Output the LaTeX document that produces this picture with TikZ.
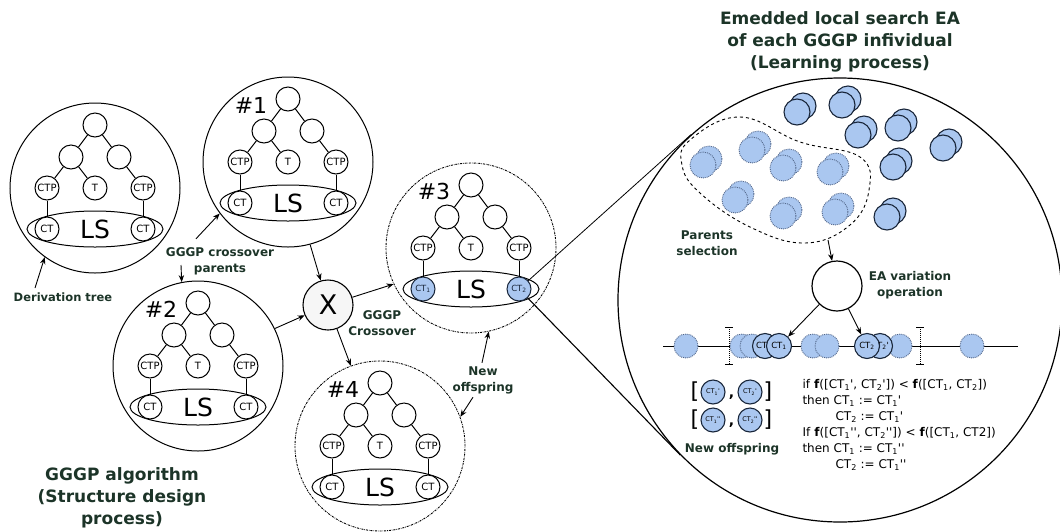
\documentclass[tikz,border=0pt]{standalone}
\usepackage{fontspec}
\setmainfont{DejaVu Sans}[Ligatures=TeXOff]
\usetikzlibrary{arrows.meta,shapes.geometric,calc}

\definecolor{labgreen}{RGB}{28,52,40}
\definecolor{bubble}{RGB}{170,199,240}
\definecolor{bubedge}{RGB}{25,38,58}
\definecolor{dotedge}{RGB}{80,100,135}

\tikzset{
  indiv/.style = {draw, circle, line width = 1pt, minimum size = 170pt, inner sep = 0pt},
  offspr/.style = {dash pattern = on 2pt off 1pt on 0.6pt off 1pt, line width = 0.9pt},
  tn/.style = {draw, circle, fill = white, line width = 1pt, minimum size = 24pt, inner sep = 0pt, font = \fontsize{10}{10}\selectfont},
  tline/.style = {line width = 1pt},
  lsbox/.style = {draw, ellipse, line width = 1pt, minimum width = 136pt, minimum height = 36pt, inner sep = 0pt, font = \fontsize{25}{25}\selectfont},
  tag/.style = {font = \fontsize{22}{22}\selectfont},
  lab/.style = {text = labgreen, font = \fontsize{12}{16}\selectfont\bfseries, align = center},
  biglab/.style = {text = labgreen, font = \fontsize{17}{22}\selectfont\bfseries, align = center},
  arr/.style = {-{Stealth[length = 7pt, width = 5.5pt]}, line width = 0.9pt},
  ctsel/.style = {fill = bubble, draw = bubedge, text = bubedge, font = \fontsize{8.5}{8.5}\selectfont},
  solidbub/.style = {fill = bubble, draw = bubedge, line width = 1.1pt},
  dotbub/.style = {fill = bubble, draw = dotedge, densely dotted, line width = 0.9pt},
  linect/.style = {draw = bubedge, fill = bubble, circle, line width = 1.1pt, minimum size = 25pt, inner sep = 0pt, font = \fontsize{8.5}{8.5}\selectfont},
  offct/.style = {draw = bubedge, fill = bubble, circle, line width = 1.1pt, minimum size = 24pt, inner sep = 0pt, font = \fontsize{6.5}{6.5}\selectfont},
}

% one individual: name, centre x, centre y, outline style, tag, leaf style, leaf texts
\newcommand\ggtree[8]{%
  \begin{scope}[shift = {(#2,#3)}]
    \node[indiv, #4] (#1) at (0,0) {};
    \node[tag] (#1-tag) at (-37,-57) {#5};
    \node[tn] (#1-r) at (0,-63) {};
    \node[tn] (#1-a) at (-24,-31) {};
    \node[tn] (#1-b) at (24,-31) {};
    \node[tn] (#1-p1) at (-48,0) {CTP};
    \node[tn] (#1-t) at (0,0) {T};
    \node[tn] (#1-p2) at (48,0) {CTP};
    \node[lsbox] (#1-ls) at (0,41) {LS};
    \node[tn, #6] (#1-c1) at (-48,41) {#7};
    \node[tn, #6] (#1-c2) at (48,41) {#8};
    \draw[tline] (#1-r) -- (#1-a);
    \draw[tline] (#1-r) -- (#1-b);
    \draw[tline] (#1-a) -- (#1-p1);
    \draw[tline] (#1-a) -- (#1-t);
    \draw[tline] (#1-b) -- (#1-p2);
    \draw[tline] (#1-p1) -- (#1-c1);
    \draw[tline] (#1-p2) -- (#1-c2);
  \end{scope}}

\begin{document}
\begin{tikzpicture}[x = 1pt, y = -1pt]
\useasboundingbox (0,0) rectangle (1060,531);

% GGGP side
\ggtree{dt}{95}{188}{}{}{}{CT}{CT}
\ggtree{t1}{288}{162}{}{\#1}{}{CT}{CT}
\ggtree{t2}{198}{366}{}{\#2}{}{CT}{CT}
\ggtree{t3}{471}{248}{offspr}{\#3}{ctsel}{CT\textsubscript{1}}{CT\textsubscript{2}}
\ggtree{t4}{380}{446}{offspr}{\#4}{}{CT}{CT}

\node[draw, circle, line width = 1.1pt, fill = gray!7, minimum size = 50pt, inner sep = 0pt, font = \fontsize{27}{27}\selectfont] (x) at (328,305) {X};

\node[lab, font = \fontsize{11.5}{15}\selectfont\bfseries] (deriv) at (63,297) {Derivation tree};
\node[lab] (par) at (220,261) {GGGP crossover\\parents};
\node[lab] (cross) at (382,323) {GGGP\\Crossover};
\node[lab] (newoff) at (483,380) {New\\offspring};
\node[biglab] (gggp) at (122,498) {GGGP algorithm\\(Structure design\\process)};

\draw[arr] ($(deriv.north)+(-28,-1)$) -- (dt.234);
\draw[arr] ($(par.north)+(-24,-5)$) -- (t1.217);
\draw[arr] ($(par.center)+(-39,4)$) -- (t2.101);
\draw[arr] (t1.-75) -- (x);
\draw[arr] (t2.26) -- (x);
\draw[arr] (x) -- (t3.205);
\draw[arr] (x) -- (t4.110);
\draw[arr] ($(newoff.north)+(-1,0)$) -- (t3.-78);
\draw[arr] ($(newoff.south)+(-10,0)$) -- (t4.20);

% local search EA
\node[draw, circle, line width = 1.2pt, minimum size = 444pt, inner sep = 0pt] (ea) at (840,300) {};
\draw[line width = 1.1pt] (t3-c2) -- (tangent cs:node = ea, point = {(t3-c2)}, solution = 1);
\draw[line width = 0.8pt] (t3-c2) -- (tangent cs:node = ea, point = {(t3-c2)}, solution = 2);

\node[biglab] (title) at (840,42) {Emedded local search EA\\of each GGGP infividual\\(Learning process)};

\draw[dashed, line width = 0.9pt] plot[smooth cycle, tension = 0.7] coordinates {(690,140) (740,117) (800,142) (860,157) (869,190) (850,225) (805,243) (750,227) (700,193) (682,165)};
\foreach \x/\y in {703/165, 752/150, 783/168, 830/172, 735/200, 783/216, 835/212}
{
  \filldraw[dotbub] (\x+6,\y-6) circle[radius = 13pt];
  \filldraw[dotbub] (\x,\y) circle[radius = 13pt];
}
\foreach \x/\y in {797/112, 842/105, 858/135, 898/128, 943/148, 893/167, 887/217}
{
  \filldraw[solidbub] (\x+6,\y-6) circle[radius = 13pt];
  \filldraw[solidbub] (\x,\y) circle[radius = 13pt];
}
\node[lab] (psel) at (707,243) {Parents\\selection};

\coordinate (pool) at (828,240);
\node[draw, circle, fill = white, line width = 1.2pt, minimum size = 50pt, inner sep = 0pt] (var) at (837,286) {};
\node[lab] (varlab) at (910,285) {EA variation\\operation};
\draw[arr] (pool) -- (var);

% search line
\draw[line width = 1pt] (663,346) -- (1018,346);
\foreach \x in {686, 742, 752, 813, 827, 900, 972}
  \filldraw[dotbub] (\x,346) circle[radius = 12pt];
\foreach \x in {729, 920}
{
  \draw[densely dotted, line width = 1pt] (\x,327) -- (\x,364);
  \draw[line width = 0.8pt] (\x-4,327) -- (\x+4,327);
  \draw[line width = 0.8pt] (\x-4,364) -- (\x+4,364);
}
\node[linect] (lc1b) at (765,346) {CT\textsubscript{1}'};
\node[linect] (lc1) at (779,346) {CT\textsubscript{1}};
\node[linect] (lc2b) at (880,346) {CT\textsubscript{2}'};
\node[linect] (lc2) at (867,346) {CT\textsubscript{2}};
\draw[arr] (var) -- (lc1);
\draw[arr] (var) -- (lc2);

% offspring
\foreach \r/\y/\p in {1/392/', 2/420/''}
{
  \node[font = \fontsize{22}{22}\selectfont] (o\r l) at (695,\y) {[};
  \node[offct] (o\r a) at (713,\y) {CT\textsubscript{1}\p};
  \node[font = \fontsize{14}{14}\selectfont\bfseries] (o\r m) at (731.5,\y+5) {,};
  \node[offct] (o\r b) at (750,\y) {CT\textsubscript{2}\p};
  \node[font = \fontsize{22}{22}\selectfont] (o\r r) at (768,\y) {]};
}
\node[lab] (nolab) at (732,449) {New offspring};

\node[anchor = north west, align = left, font = \fontsize{12}{16}\selectfont] (rule) at (799,376)
{if \textbf{f}([CT\textsubscript{1}', CT\textsubscript{2}']) < \textbf{f}([CT\textsubscript{1}, CT\textsubscript{2}])\\
then CT\textsubscript{1} := CT\textsubscript{1}'\\
\hspace*{33pt}CT\textsubscript{2} := CT\textsubscript{1}'\\
If \textbf{f}([CT\textsubscript{1}'', CT\textsubscript{2}'']) < \textbf{f}([CT\textsubscript{1}, CT2])\\
then CT\textsubscript{1} := CT\textsubscript{1}''\\
\hspace*{33pt}CT\textsubscript{2} := CT\textsubscript{1}''};
\end{tikzpicture}
\end{document}
